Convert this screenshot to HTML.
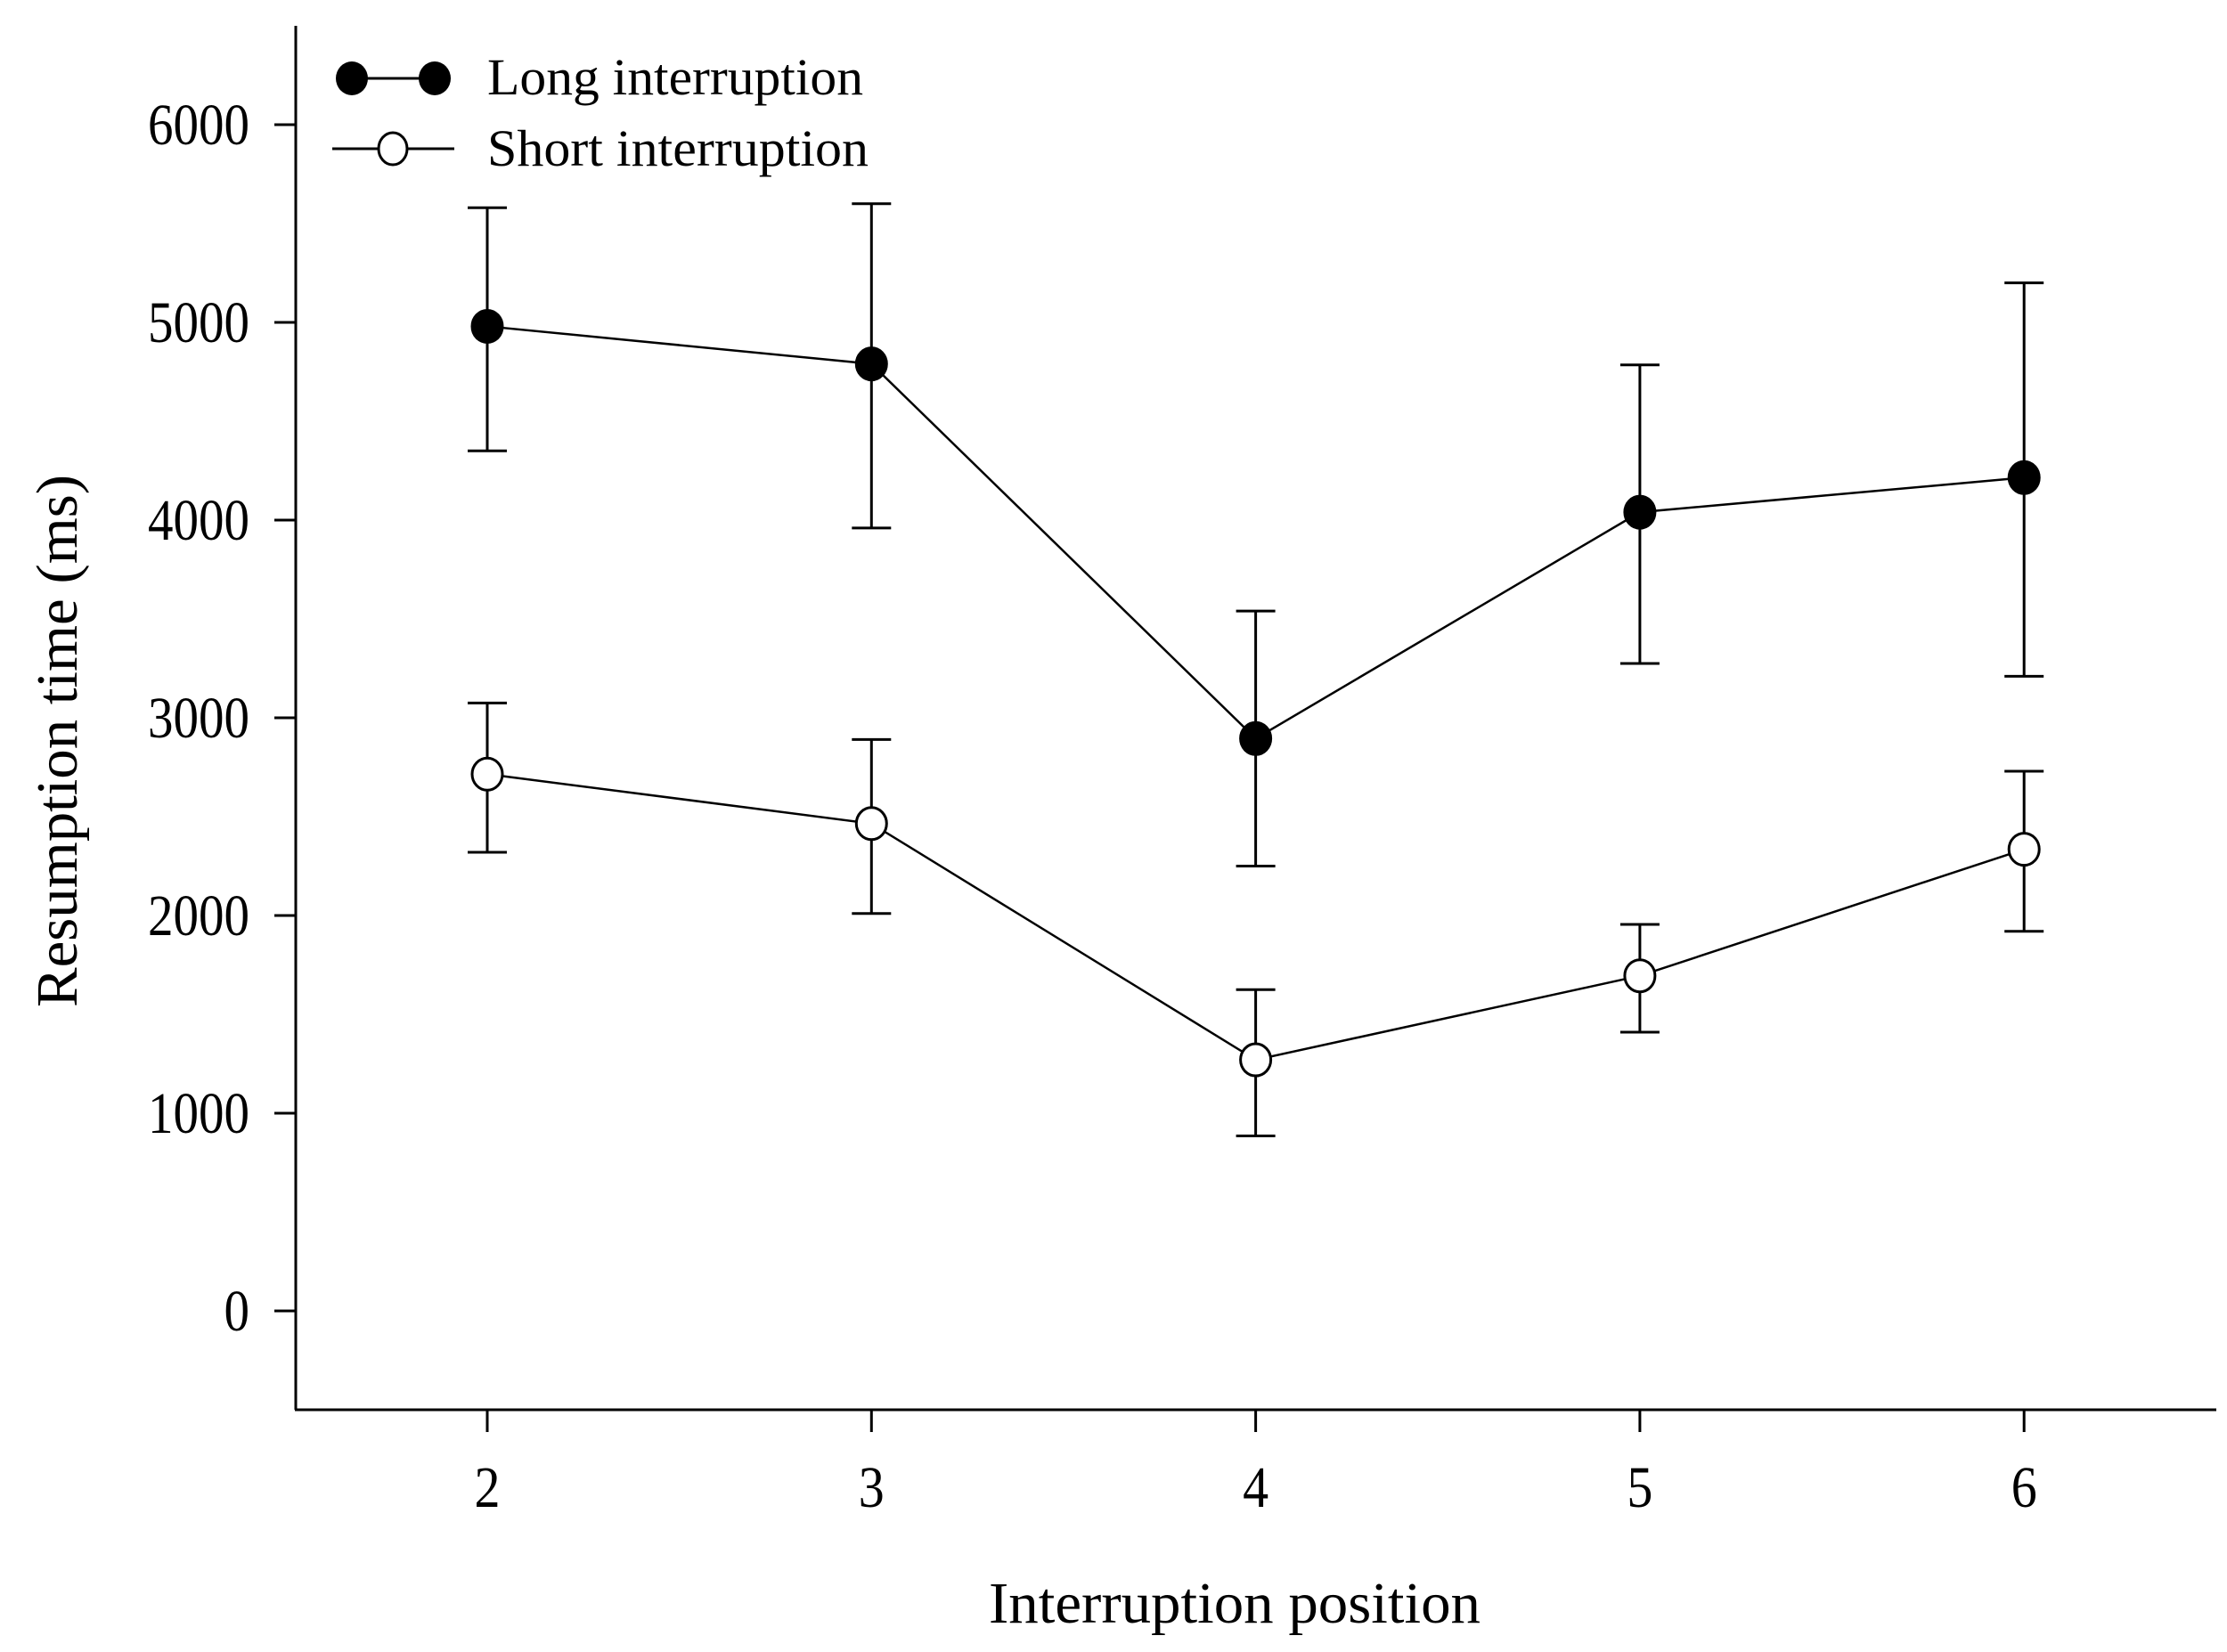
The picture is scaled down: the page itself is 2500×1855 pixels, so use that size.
<!DOCTYPE html>
<html><head><meta charset="utf-8"><style>
html,body{margin:0;padding:0;background:#fff;}
svg{display:block;font-family:"Liberation Serif",serif;}
</style></head><body>
<svg id="chart" width="2500" height="1855" viewBox="0 0 2500 1855" xmlns="http://www.w3.org/2000/svg">
<g id="axes"></g>
<g id="series"></g>
<g id="legend">
  <line x1="395" y1="88" x2="488" y2="88" stroke="#000" stroke-width="3"/>
  <ellipse cx="395" cy="88" rx="18" ry="19" fill="#000"/>
  <ellipse cx="488" cy="88" rx="18" ry="19" fill="#000"/>
  <text x="547" y="106" font-size="58" textLength="422" lengthAdjust="spacingAndGlyphs">Long interruption</text>
  <line x1="373" y1="167" x2="510" y2="167" stroke="#000" stroke-width="3"/>
  <ellipse cx="441" cy="167" rx="16" ry="18" fill="#fff" stroke="#000" stroke-width="3"/>
  <text x="547" y="186" font-size="58" textLength="428" lengthAdjust="spacingAndGlyphs">Short interruption</text>
</g>
<text x="1386" y="1822" font-size="66" text-anchor="middle" textLength="552" lengthAdjust="spacingAndGlyphs">Interruption position</text>
<text transform="translate(86,832) rotate(-90)" font-size="66" text-anchor="middle" textLength="598" lengthAdjust="spacingAndGlyphs">Resumption time (ms)</text>
</svg>
<script>
const categories = [2, 3, 4, 5, 6];
const longMean = [4980, 4790, 2895, 4040, 4215];
const longUpper = [5580, 5600, 3540, 4785, 5200];
const longLower = [4350, 3960, 2250, 3275, 3210];
const shortMean = [2715, 2465, 1270, 1695, 2335];
const shortUpper = [3075, 2890, 1625, 1955, 2730];
const shortLower = [2320, 2010, 885, 1410, 1920];
const yTicks = [0, 1000, 2000, 3000, 4000, 5000, 6000];

const NS = "http://www.w3.org/2000/svg";
const X0 = 547, XSTEP = 431.3, Y0 = 1472, YPX = 0.222;
function xs(c){ return X0 + (c - 2) * XSTEP; }
function ys(v){ return Y0 - v * YPX; }
function mk(tag, attrs, parent){
  const e = document.createElementNS(NS, tag);
  for (const k in attrs) e.setAttribute(k, attrs[k]);
  parent.appendChild(e);
  return e;
}
const axes = document.getElementById('axes');
const series = document.getElementById('series');

let el = mk('line', {x1:332, y1:29, x2:332, y2:1583, stroke:'#000', 'stroke-width':3}, axes);


el = mk('line', {x1:331, y1:1583, x2:2488, y2:1583, stroke:'#000', 'stroke-width':3}, axes);



yTicks.forEach(v => {
  const y = ys(v);
  const t = mk('line', {x1:308, y1:y, x2:332, y2:y, stroke:'#000', 'stroke-width':3}, axes);
  
  
  const s = String(v);
  const l = mk('text', {x:280, y:y + 22, 'font-size':66, 'text-anchor':'end', textLength: 28.5 * s.length, lengthAdjust:'spacingAndGlyphs'}, axes);
  l.textContent = s;
  
  
});
categories.forEach(c => {
  const x = xs(c);
  const t = mk('line', {x1:x, y1:1583, x2:x, y2:1608, stroke:'#000', 'stroke-width':3}, axes);
  
  
  const l = mk('text', {x:x, y:1692, 'font-size':66, 'text-anchor':'middle', textLength:29, lengthAdjust:'spacingAndGlyphs'}, axes);
  l.textContent = String(c);
  
  
});

function drawSeries(name, mean, up, lo, filled){
  const g = mk('g', {}, series);
  
  
  categories.forEach((c, i) => {
    const x = xs(c);
    const e = mk('path', {d:`M${x},${ys(up[i])}V${ys(lo[i])}M${x-22},${ys(up[i])}H${x+22}M${x-22},${ys(lo[i])}H${x+22}`, stroke:'#000', 'stroke-width':3, fill:'none'}, g);
    
    
  });
  const pts = categories.map((c, i) => xs(c) + ',' + ys(mean[i])).join(' ');
  const pl = mk('polyline', {points:pts, fill:'none', stroke:'#000', 'stroke-width':2.5}, g);
  
  
  categories.forEach((c, i) => {
    const p = mk('ellipse', {cx:xs(c), cy:ys(mean[i]), rx:17, ry:18, fill: filled ? '#000' : '#fff', stroke:'#000', 'stroke-width':3}, g);
    
    
  });
}
drawSeries('long-interruption', longMean, longUpper, longLower, true);
drawSeries('short-interruption', shortMean, shortUpper, shortLower, false);
</script>
</body></html>
